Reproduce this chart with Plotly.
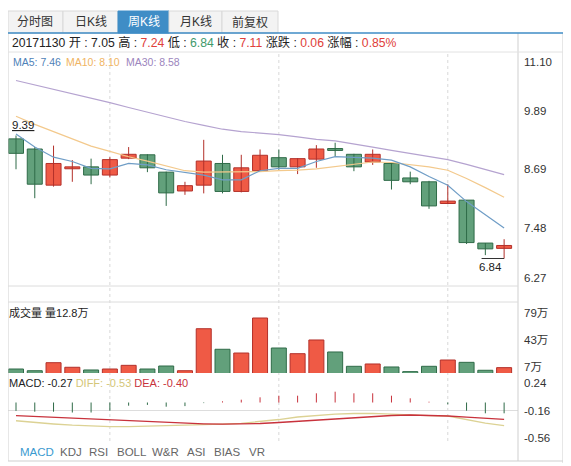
"""Weekly K-line chart (周K线) with MA5/10/30, volume and MACD panels."""
import plotly.graph_objects as go

W, H = 571, 466
OX, OY = 8, 8  # page body margin: figure origin sits at (8, 8) in the window

# ---- data -----------------------------------------------------------------
opens = [9.32, 9.11, 8.36, 8.70, 8.74, 8.57, 8.92, 8.99, 8.63, 8.24, 8.36, 8.81, 8.23, 8.66,
         8.93, 8.74, 8.90, 9.12, 9.00, 8.84, 8.81, 8.51, 8.43, 7.98, 8.05, 7.16, 7.05]
closes = [9.02, 8.38, 8.81, 8.74, 8.57, 8.89, 9.00, 8.72, 8.20, 8.35, 8.86, 8.23, 8.72, 8.98,
          8.74, 8.91, 9.11, 9.08, 8.74, 9.00, 8.46, 8.43, 7.93, 8.03, 7.17, 7.04, 7.11]
highs = [9.39, 9.15, 9.18, 8.88, 8.91, 8.94, 9.15, 9.00, 8.64, 8.43, 9.30, 8.99, 8.99, 9.10,
         9.10, 8.92, 9.19, 9.24, 9.01, 9.10, 8.82, 8.64, 8.45, 8.38, 8.05, 7.16, 7.24]
lows = [8.69, 8.09, 8.33, 8.43, 8.38, 8.52, 8.90, 8.63, 7.93, 8.16, 8.19, 8.19, 8.21, 8.65,
        8.68, 8.59, 8.72, 8.95, 8.65, 8.78, 8.27, 8.38, 7.87, 7.97, 7.14, 6.91, 6.84]

ma5 = [9.42, 9.15, 8.94, 8.85, 8.71, 8.70, 8.81, 8.78, 8.68, 8.62, 8.57, 8.47, 8.47, 8.66,
       8.71, 8.71, 8.85, 8.95, 8.94, 8.92, 8.88, 8.74, 8.54, 8.36, 8.02, 7.74, 7.47]
ma10 = [9.79, 9.62, 9.47, 9.32, 9.17, 9.06, 8.95, 8.86, 8.76, 8.66, 8.63, 8.63, 8.63, 8.64,
        8.66, 8.67, 8.70, 8.75, 8.80, 8.84, 8.83, 8.79, 8.74, 8.67, 8.50, 8.31, 8.11]
ma30 = [10.53, 10.44, 10.35, 10.26, 10.17, 10.07, 9.97, 9.87, 9.77, 9.68, 9.60, 9.52, 9.47,
        9.44, 9.41, 9.36, 9.31, 9.28, 9.22, 9.15, 9.08, 9.02, 8.96, 8.89, 8.79, 8.68, 8.58]

# volume, in 万
volume = [11.0, 8.7, 19.4, 13.3, 9.7, 11.0, 15.9, 11.0, 15.0, 8.7, 64.7, 37.3, 32.3, 79.0,
          39.0, 31.4, 49.7, 33.7, 14.6, 17.7, 13.7, 7.5, 14.6, 23.0, 19.9, 9.3, 12.8]

diff = [-0.311, -0.337, -0.359, -0.377, -0.392, -0.399, -0.399, -0.393, -0.389, -0.381,
        -0.374, -0.362, -0.349, -0.322, -0.293, -0.256, -0.231, -0.212, -0.204, -0.201,
        -0.212, -0.226, -0.237, -0.241, -0.293, -0.345, -0.384]
dea = [-0.237, -0.249, -0.263, -0.278, -0.290, -0.303, -0.315, -0.325, -0.337, -0.347,
       -0.356, -0.362, -0.362, -0.352, -0.337, -0.319, -0.300, -0.281, -0.263, -0.246,
       -0.234, -0.226, -0.231, -0.241, -0.259, -0.275, -0.290]
macd = [-0.21, -0.23, -0.23, -0.25, -0.25, -0.205, -0.08, -0.06, -0.105, -0.09, -0.015, 0.03,
        0.07, 0.13, 0.17, 0.17, 0.23, 0.27, 0.23, 0.23, 0.17, 0.105, 0.02, -0.045, -0.205,
        -0.27, -0.27]

month_marks = [5, 14, 23]
price_ticks = [11.10, 9.89, 8.69, 7.48, 6.27]
vol_ticks = [79, 43, 7]
macd_ticks = [0.24, -0.16, -0.56]
tabs = ["分时图", "日K线", "周K线", "月K线", "前复权"]
ind_tabs = ["MACD", "KDJ", "RSI", "BOLL", "W&R", "ASI", "BIAS", "VR"]
ma_text = ["MA5: 7.46", "MA10: 8.10", "MA30: 8.58"]

# ---- style ----------------------------------------------------------------
RED, RED_LINE = "#ef5a45", "#b3302a"
GREEN, GREEN_LINE = "#62a07b", "#2f6b48"
C_MA5, C_MA10, C_MA30 = "#6f9dc6", "#f3c98c", "#b5a3d0"
C_DIFF, C_DEA = "#dcd294", "#c8323c"
FONT = "'Liberation Sans', 'Noto Sans CJK SC', sans-serif"
FS = 11
GRID = "#d8d8d8"
FRAME = "#cfcfcf"


def px(x):
    return (x - OX) / W


def py(y):
    return 1 - (y - OY) / H


idx = list(range(len(opens)))
up = [c >= o for o, c in zip(opens, closes)]

fig = go.Figure()

# wicks
for flag, col in ((True, RED_LINE), (False, GREEN_LINE)):
    xs, ys = [], []
    for i in idx:
        if up[i] == flag:
            xs += [i, i, None]
            ys += [lows[i], highs[i], None]
    fig.add_trace(go.Scatter(x=xs, y=ys, mode="lines", line=dict(color=col, width=1),
                             hoverinfo="skip", showlegend=False))

# bodies
for flag, fill, edge in ((True, RED, RED_LINE), (False, GREEN, GREEN_LINE)):
    sel = [i for i in idx if up[i] == flag]
    fig.add_trace(go.Bar(
        x=sel,
        y=[max(abs(closes[i] - opens[i]), 0.01) for i in sel],
        base=[min(opens[i], closes[i]) for i in sel],
        width=0.8, marker=dict(color=fill, line=dict(color=edge, width=1)),
        showlegend=False))

for ma, col in ((ma30, C_MA30), (ma10, C_MA10), (ma5, C_MA5)):
    fig.add_trace(go.Scatter(x=idx, y=ma, mode="lines", line=dict(color=col, width=1.2),
                             showlegend=False))

# volume
fig.add_trace(go.Bar(
    x=idx, y=volume, width=0.8, xaxis="x2", yaxis="y2",
    marker=dict(color=[RED if u else GREEN for u in up],
                line=dict(color=[RED_LINE if u else GREEN_LINE for u in up], width=1)),
    showlegend=False))

# MACD histogram (own scale)
for sign, col in ((True, C_DEA), (False, GREEN_LINE)):
    xs, ys = [], []
    for i in idx:
        if (macd[i] >= 0) == sign:
            xs += [i, i, None]
            ys += [0, macd[i], None]
    fig.add_trace(go.Scatter(x=xs, y=ys, mode="lines", line=dict(color=col, width=1),
                             xaxis="x3", yaxis="y4", showlegend=False))

fig.add_trace(go.Scatter(x=idx, y=diff, mode="lines", line=dict(color=C_DIFF, width=1.3),
                         xaxis="x3", yaxis="y3", showlegend=False))
fig.add_trace(go.Scatter(x=idx, y=dea, mode="lines", line=dict(color=C_DEA, width=1.3),
                         xaxis="x3", yaxis="y3", showlegend=False))

xr = [-0.426, 26.74]
xcommon = dict(domain=[px(8), px(518)], range=xr, showgrid=False, zeroline=False,
               showticklabels=False, ticks="", fixedrange=True)
ycommon = dict(showgrid=False, zeroline=False, showticklabels=False, ticks="",
               fixedrange=True)

fig.update_layout(
    width=W, height=H, margin=dict(l=0, r=0, t=0, b=0),
    paper_bgcolor="white", plot_bgcolor="rgba(0,0,0,0)",
    barmode="overlay", showlegend=False,
    font=dict(family=FONT, size=FS, color="#333333"),
    xaxis=dict(anchor="y", **xcommon),
    xaxis2=dict(anchor="y2", matches="x", **xcommon),
    xaxis3=dict(anchor="y3", matches="x", **xcommon),
    yaxis=dict(domain=[py(286), py(53)], range=[6.27, 11.10], **ycommon),
    yaxis2=dict(domain=[py(373), py(303)], range=[5.67, 99], **ycommon),
    yaxis3=dict(domain=[py(441), py(375)], range=[-0.610, 0.364], **ycommon),
    yaxis4=dict(overlaying="y3", range=[-0.9625, 0.6875], visible=False, fixedrange=True),
)

shapes = []
# month grid lines through all panels
for m in month_marks:
    shapes.append(dict(type="line", xref="x", yref="paper", x0=m, x1=m,
                       y0=py(441), y1=py(53), line=dict(color=GRID, width=1, dash="dot"),
                       layer="below"))
# MACD middle line
shapes.append(dict(type="line", xref="paper", yref="y3", x0=px(8), x1=px(518),
                   y0=macd_ticks[1], y1=macd_ticks[1], line=dict(color="#dddddd", width=1),
                   layer="below"))
# frame
for x0, y0, x1, y1, col in [
    (8, 33, 8, 461, FRAME), (518, 33, 518, 461, FRAME), (563, 33, 563, 463, FRAME),
    (8, 52, 563, 52, "#e2e2e2"), (8, 286, 518, 286, "#dcdcdc"), (8, 302, 518, 302, "#dcdcdc"),
    (8, 461, 563, 461, FRAME),
]:
    shapes.append(dict(type="line", xref="paper", yref="paper", x0=px(x0), x1=px(x1),
                       y0=py(y0), y1=py(y1), line=dict(color=col, width=1)))

# tabs
tab_x = [8, 63, 118, 169, 222, 278]
for k, name in enumerate(tabs):
    sel = name == "周K线"
    shapes.append(dict(type="rect", xref="paper", yref="paper",
                       x0=px(tab_x[k]), x1=px(tab_x[k + 1]), y0=py(33), y1=py(11),
                       fillcolor="#3f8dc6" if sel else "#f3f3f3",
                       line=dict(color="#3f8dc6" if sel else "#d9d9d9", width=1)))
shapes.append(dict(type="line", xref="paper", yref="paper", x0=px(8), x1=px(563),
                   y0=py(33), y1=py(33), line=dict(color="#3f8dc6", width=1.5)))

ann = []


def label(x, y, text, color="#222222", xanchor="left", size=FS):
    ann.append(dict(x=px(x), y=py(y), xref="paper", yref="paper", xanchor=xanchor,
                    yanchor="middle", text=text, showarrow=False, borderpad=0,
                    font=dict(size=size, color=color)))


for k, name in enumerate(tabs):
    sel = name == "周K线"
    label((tab_x[k] + tab_x[k + 1]) / 2, 22, name, "white" if sel else "#333333", "center", 12)


def sp(t, c):
    return f"<span style='color:{c}'>{t}</span>"


header = ("20171130 开 : 7.05 高 : " + sp("7.24", "#e0403a") + " 低 : " + sp("6.84", "#3f9a6c")
          + " 收 : " + sp("7.11", "#e0403a") + " 涨跌 : " + sp("0.06", "#e0403a")
          + " 涨幅 : " + sp("0.85%", "#e0403a"))
label(11, 42, header, size=12.2)
for txt, x, col in zip(ma_text, [12, 65, 125], ["#4f82b8", "#f0b462", "#9c85bd"]):
    label(x, 62, txt, col, size=10.5)

# max / min markers
hi_i = highs.index(max(highs))
lo_i = lows.index(min(lows))
ann.append(dict(x=hi_i, y=highs[hi_i], xref="x", yref="y", xanchor="left", yanchor="bottom",
                yshift=2, xshift=-6, text=f"<u>{highs[hi_i]:.2f}</u>", showarrow=False,
                font=dict(size=11.5, color="#222222")))
ann.append(dict(x=lo_i, y=lows[lo_i], xref="x", yref="y", xanchor="right", yanchor="top",
                yshift=0, text=f"{lows[lo_i]:.2f}", showarrow=False,
                font=dict(size=11.5, color="#222222")))
shapes.append(dict(type="line", xref="x", yref="y", x0=lo_i - 1.2, x1=lo_i,
                   y0=lows[lo_i], y1=lows[lo_i], line=dict(color="#333333", width=1)))

# right axis labels
shift = {0: -9, len(price_ticks) - 1: 8}
for k, v in enumerate(price_ticks):
    ann.append(dict(x=px(522), y=v, xref="paper", yref="y", xanchor="left", yanchor="middle",
                    yshift=shift.get(k, 0), text=f"{v:.2f}", showarrow=False,
                    font=dict(size=11.5, color="#333333")))
for v in vol_ticks:
    ann.append(dict(x=px(522), y=v, xref="paper", yref="y2", xanchor="left", yanchor="middle",
                    yshift=5, text=f"{v}万", showarrow=False,
                    font=dict(size=11.5, color="#333333")))
for v in macd_ticks:
    ann.append(dict(x=px(522), y=v, xref="paper", yref="y3", xanchor="left", yanchor="middle",
                    text=f"{v:.2f}", showarrow=False, font=dict(size=11.5, color="#333333")))

label(8, 312, f"成交量 量{volume[-1]}万")
label(8, 383, "MACD: -0.27 " + sp("DIFF: -0.53", "#d4c678") + " " + sp("DEA: -0.40", "#c8323c"))

ind_x = [19, 59, 88, 116, 151, 186, 213, 248]
for name, x in zip(ind_tabs, ind_x):
    label(x, 452, name, "#3a9ad0" if name == "MACD" else "#666666", size=11.5)

fig.update_layout(shapes=shapes, annotations=ann)
fig.write_html("out.html")
